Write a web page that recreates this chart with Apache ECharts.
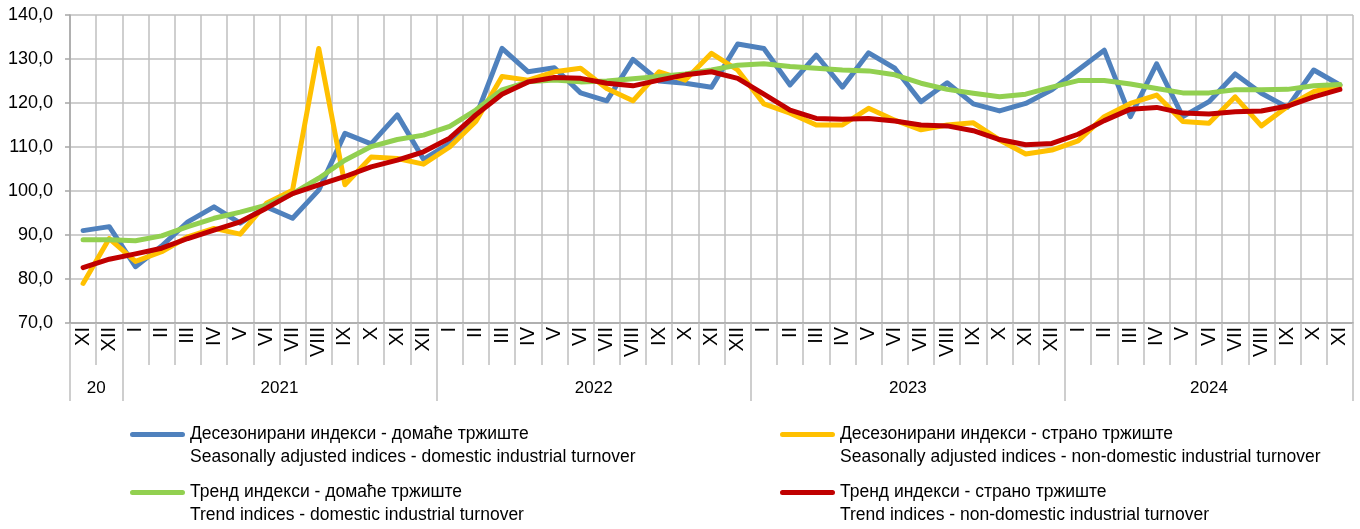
<!DOCTYPE html>
<html>
<head>
<meta charset="utf-8">
<script src="https://cdn.jsdelivr.net/npm/echarts@6/dist/echarts.min.js"></script>
<style>
  html, body { margin: 0; padding: 0; background: #fff; }
  #chart { width: 1360px; height: 529px; }
</style>
</head>
<body>
<div id="chart"></div>
<script>
// Month categories (XI 2020 – XI 2024)
const months = ['XI','XII',
  'I','II','III','IV','V','VI','VII','VIII','IX','X','XI','XII',
  'I','II','III','IV','V','VI','VII','VIII','IX','X','XI','XII',
  'I','II','III','IV','V','VI','VII','VIII','IX','X','XI','XII',
  'I','II','III','IV','V','VI','VII','VIII','IX','X','XI'];

// Year groups: label and number of months in each
const yearNames = ['20', '2021', '2022', '2023', '2024'];
const yearMonths = [2, 12, 12, 12, 11];

// Seasonally adjusted indices - domestic
const saDomestic = [91.0, 91.9, 82.8, 87.5, 93.0, 96.4, 92.7, 96.4, 93.8, 100.2, 113.1, 110.7, 117.3, 107.2,
  110.8, 116.9, 132.4, 127.1, 128.0, 122.3, 120.5, 129.9, 125.0, 124.5, 123.6, 133.4,
  132.4, 124.1, 130.9, 123.6, 131.4, 127.9, 120.3, 124.6, 119.8, 118.2, 119.9, 123.0,
  127.5, 132.0, 116.9, 128.9, 116.9, 120.3, 126.6, 122.2, 119.0, 127.5, 124.1];
// Seasonally adjusted indices - non-domestic
const saForeign = [79.0, 89.2, 84.0, 86.2, 89.6, 91.5, 90.2, 97.2, 100.2, 132.4, 101.4, 107.7, 107.4, 106.1,
  110.0, 115.8, 126.0, 125.2, 127.1, 127.9, 123.3, 120.5, 127.1, 125.2, 131.3, 127.5,
  119.8, 117.7, 115.0, 115.0, 118.8, 116.1, 113.9, 115.0, 115.5, 111.6, 108.4, 109.3,
  111.4, 116.9, 119.9, 121.8, 115.8, 115.4, 121.4, 114.8, 119.2, 122.6, 123.9];
// Trend indices - domestic
const trendDomestic = [88.9, 88.9, 88.7, 89.8, 91.9, 93.8, 95.2, 96.8, 99.4, 102.9, 107.0, 110.1, 111.7, 112.7,
  114.7, 118.4, 123.0, 124.8, 125.2, 124.8, 125.0, 125.5, 126.0, 126.6, 127.5, 128.6,
  128.9, 128.3, 127.9, 127.5, 127.3, 126.4, 124.5, 123.1, 122.2, 121.4, 122.0, 123.6,
  125.1, 125.1, 124.3, 123.3, 122.3, 122.3, 123.0, 123.0, 123.1, 123.9, 124.2];
// Trend indices - non-domestic
const trendForeign = [82.6, 84.5, 85.7, 87.0, 89.2, 91.1, 93.0, 96.1, 99.4, 101.4, 103.3, 105.5, 107.0, 108.9,
  112.0, 117.3, 122.0, 124.8, 125.8, 125.6, 124.5, 123.9, 125.2, 126.4, 127.1, 125.6,
  122.0, 118.4, 116.5, 116.3, 116.5, 115.9, 115.0, 114.8, 113.7, 111.7, 110.5, 110.8,
  112.9, 116.0, 118.6, 119.0, 117.7, 117.5, 118.0, 118.2, 119.3, 121.4, 123.1];

const seriesNames = [
  'Десезонирани индекси - домаће тржиште\nSeasonally adjusted indices - domestic industrial turnover',
  'Десезонирани индекси - страно тржиште\nSeasonally adjusted indices - non-domestic industrial turnover',
  'Тренд индекси - домаће тржиште\nTrend indices - domestic industrial turnover',
  'Тренд индекси - страно тржиште\nTrend indices - non-domestic industrial turnover'
];
const seriesColors = ['#4F81BD', '#FFC000', '#92D050', '#C00000'];

// Build half-month year axis: boundaries at 2*cumulative, labels at group centres
const halfCats = [];
const yearTickIdx = new Set([0]);
const yearLabelIdx = {};
let cum = 0;
yearMonths.forEach((n, k) => {
  const centre = cum + n / 2;
  yearLabelIdx[Math.round(centre * 2)] = yearNames[k];
  cum += n;
  yearTickIdx.add(cum * 2);
});
for (let j = 0; j <= cum * 2; j++) halfCats.push(yearLabelIdx[j] || '');

const FONT = "'Liberation Sans Narrow', 'Liberation Sans', Arial, sans-serif";
const gridColor = '#BFBFBF';
const axisColor = '#A6A6A6';

const legendIcon = 'path://M2.5,0H52.5A2.5,2.5 0 0 1 52.5,5H2.5A2.5,2.5 0 0 1 2.5,0Z M0,27.99H0.01V28H0Z';

const legendCommon = {
  orient: 'vertical', top: 423, padding: 0,
  itemWidth: 55, itemHeight: 28, itemGap: 12, icon: legendIcon,
  itemStyle: { borderWidth: 0 },
  textStyle: { fontFamily: FONT, fontSize: 17.5, lineHeight: 23, color: '#000' },
  selectedMode: false
};

const chart = echarts.init(document.getElementById('chart'), null, { renderer: 'canvas' });
chart.setOption({
  animation: false,
  backgroundColor: '#fff',
  textStyle: { fontFamily: FONT },
  grid: { left: 70, right: 7, top: 15, bottom: 206, containLabel: false },
  legend: [
    Object.assign({}, legendCommon, { data: [seriesNames[0], seriesNames[2]], left: 130 }),
    Object.assign({}, legendCommon, { data: [seriesNames[1], seriesNames[3]], left: 780 })
  ],
  xAxis: [
    {
      type: 'category', data: months, position: 'bottom', boundaryGap: true,
      axisLine: { onZero: false, lineStyle: { color: axisColor, width: 1.5 } },
      axisTick: { show: true, interval: 0, length: 42, lineStyle: { color: gridColor, width: 1.5 } },
      splitLine: { show: true, interval: 0, lineStyle: { color: gridColor, width: 1.5 } },
      axisLabel: { interval: 0, rotate: 90, margin: 4, fontSize: 20, color: '#000', fontFamily: FONT }
    },
    {
      type: 'category', data: halfCats, position: 'bottom', boundaryGap: false,
      axisLine: { show: false, onZero: false },
      axisTick: { show: true, length: 78, interval: (i) => yearTickIdx.has(i), lineStyle: { color: gridColor, width: 1.5 } },
      splitLine: { show: false },
      axisLabel: { interval: (i, v) => v !== '', margin: 57, fontSize: 17, color: '#000', fontFamily: FONT }
    }
  ],
  yAxis: {
    type: 'value', min: 70, max: 140, interval: 10,
    axisLine: { show: true, lineStyle: { color: axisColor, width: 1.5 } },
    axisTick: { show: true, length: 5, lineStyle: { color: axisColor, width: 1.5 } },
    splitLine: { show: true, lineStyle: { color: gridColor, width: 1.5 } },
    axisLabel: { margin: 17, fontSize: 18, color: '#000', fontFamily: FONT,
      formatter: (v) => v.toFixed(1).replace('.', ',') }
  },
  series: [saDomestic, saForeign, trendDomestic, trendForeign].map((d, k) => ({
    name: seriesNames[k], type: 'line', data: d, xAxisIndex: 0,
    symbol: 'none', smooth: false,
    lineStyle: { color: seriesColors[k], width: 5, cap: 'round', join: 'round' },
    itemStyle: { color: seriesColors[k] }
  }))
});
</script>
</body>
</html>
